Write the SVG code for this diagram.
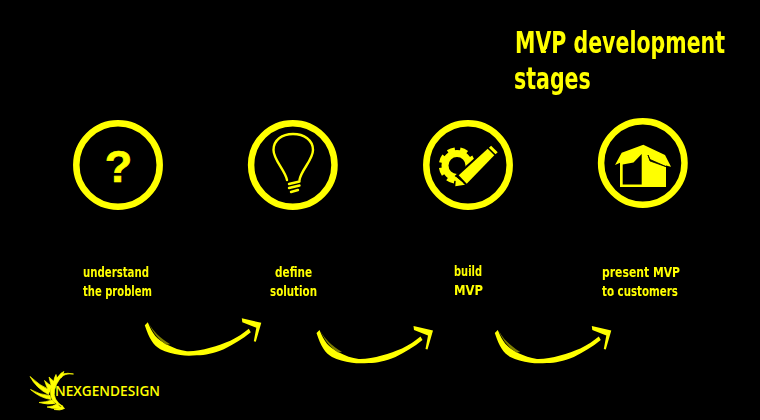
<svg xmlns="http://www.w3.org/2000/svg" width="760" height="420" viewBox="0 0 760 420">
<defs>
<style>
.t{font-family:"DejaVu Sans Condensed","DejaVu Sans",sans-serif;font-weight:700;fill:#ff0;}
.h{font-size:30px}
.l{font-size:14px}
.ring{fill:none;stroke:#ff0;stroke-width:6.5}
.y{fill:#ff0}
.sh{fill:#7d7d00}
.f path{fill:#ff0;stroke:#ff0;stroke-width:.7}
.line{fill:none;stroke:#ff0;stroke-linecap:round;stroke-linejoin:round}
</style>
<filter id="soft" x="-5%" y="-10%" width="110%" height="120%"><feGaussianBlur stdDeviation="0.5"/></filter>
<filter id="rough" x="-3%" y="-15%" width="106%" height="130%"><feTurbulence type="fractalNoise" baseFrequency="0.09" numOctaves="2" seed="4" result="n"/><feDisplacementMap in="SourceGraphic" in2="n" scale="1.6" xChannelSelector="R" yChannelSelector="G"/></filter>
<g id="arrow" filter="url(#soft)">
<path class="y" d="M316.500,333 L319.500,330 C322,336 324,340 327,343.700 C332,349.500 345,357 358.700,359 C372,359.500 390,353.500 402,348.500 C409,345 415,341 420.500,336.500 L422.500,340 C414,347 405,352 395.500,357 C385,361 377,363 368.700,363 C362,363.500 357,363.500 352,362.700 C344,361.500 338,360 332,357 C325,353 321,346.500 316.500,333Z"/>
<path class="sh" d="M320.500,331 C325,339 331,345 342,352 L338,352.500 C330,347 325,341 320.500,331Z"/>
<path class="y" d="M413.500,326 L433,330.500 L427.500,349.500 L425.500,349 L428,335.500 L414,330Z"/>
</g>
</defs>
<rect width="760" height="420" fill="#000"/>

<g id="title" filter="url(#rough)">
<text class="t h" transform="translate(515 53) scale(.8 1)" x="0" y="0" textLength="262.500" lengthAdjust="spacingAndGlyphs">MVP development</text>
<text class="t h" transform="translate(514 89) scale(.8 1)" x="0" y="0" textLength="96" lengthAdjust="spacingAndGlyphs">stages</text>
</g>

<g id="connectors">
<use href="#arrow" x="-171.700" y="-7.700"/>
<use href="#arrow"/>
<use href="#arrow" x="178.300"/>
</g>

<g id="node-understand">
<circle class="ring" cx="118" cy="165" r="41.700"/>
<text x="118.500" y="182" text-anchor="middle" font-family="Liberation Sans,sans-serif" font-weight="700" font-size="45" fill="#ff0" stroke="#ff0" stroke-width=".7">?</text>
<g filter="url(#rough)">
<text class="t l" x="83" y="277" textLength="66" lengthAdjust="spacingAndGlyphs">understand</text>
<text class="t l" x="83" y="295.500" textLength="69" lengthAdjust="spacingAndGlyphs">the problem</text>
</g>
</g>

<g id="node-define">
<circle class="ring" cx="292.800" cy="165" r="41.700"/>
<path class="line" stroke-width="2.400" d="M287,180 C285,170 273.500,160 273.500,150 C273.500,140 282,134 293,134 C304,134 313,140 313,150 C313,160 301,170 299.500,180"/>
<path class="line" stroke-width="2.400" d="M289,184 L299.500,181.500 M289,188 L299.500,185.500 M291,192 L298,190"/>
<g filter="url(#rough)">
<text class="t l" x="275" y="277" textLength="37" lengthAdjust="spacingAndGlyphs">define</text>
<text class="t l" x="270" y="295.500" textLength="47" lengthAdjust="spacingAndGlyphs">solution</text>
</g>
</g>

<g id="node-build">
<circle class="ring" cx="468" cy="165" r="41.700"/>
<circle cx="457" cy="165.500" r="12" fill="none" stroke="#ff0" stroke-width="7"/>
<circle cx="457" cy="165.500" r="15.500" fill="none" stroke="#ff0" stroke-width="5.500" stroke-dasharray="7 5.175" stroke-dashoffset="-2.600"/>
<path d="M456.500,176 L487.700,148 L495,155.500 L467,184.500 Z" fill="#000" stroke="#000" stroke-width="2.400"/>
<path class="y" d="M458.700,175.300 L487.700,148.700 L494.300,155.300 L466.700,183.700 Z"/>
<path class="y" d="M488.900,147.700 L491.100,145.700 L497.700,152.300 L495.500,154.300 Z"/>
<path class="y" d="M456,177 L465,184.700 L455.300,186.300 Z"/>
<text class="t l" x="454" y="276" textLength="28" lengthAdjust="spacingAndGlyphs" filter="url(#rough)">build</text>
<text class="t l" x="454" y="295" textLength="29" lengthAdjust="spacingAndGlyphs" filter="url(#rough)">MVP</text>
</g>

<g id="node-present">
<circle class="ring" cx="642.800" cy="163" r="41.700"/>
<path class="y" d="M643.300,144.700 L665,155 L671,166.700 L666,165.500 L666,187 L620,187 L620,162.800 L615,165 L621.700,152.700 Z"/>
<path d="M622.700,164.500 L633.500,162.500 L641.700,154 L641.700,184.500 L622.700,184.500 Z" fill="#000"/>
<path d="M648,155 L650,161 L667,167 L650,159.500 Z" fill="#000" stroke="#000" stroke-width=".8"/>
<g filter="url(#rough)">
<text class="t l" x="602" y="277" textLength="78" lengthAdjust="spacingAndGlyphs">present MVP</text>
<text class="t l" x="602" y="295.500" textLength="76" lengthAdjust="spacingAndGlyphs">to customers</text>
</g>
</g>

<g id="logo">
<g class="f">
<path d="M30,376.500 Q36,388 48.500,394.500 L50,390 Q40,386 30,376.500Z"/>
<path d="M30.500,389.500 Q40,398 51,399.500 L50,395.500 Q40,395 30.500,389.500Z"/>
<path d="M39,402.500 Q48,405 55,403.500 L52,400 Q46,402 39,402.500Z"/>
<path d="M47,407 Q54,409.500 61,408 L57,404 Q53,406.500 47,407Z"/>
<path d="M54,409.500 Q60,411 64.500,408.500 L62,405.500 Q60,408.500 54,409.500Z"/>
<path d="M44.500,380.500 Q46,386 49.500,392 L52,386 Q48,384 44.500,380.500Z"/>
<path d="M49,377 Q50,382 52,388 L55,382 Q52,380 49,377Z"/>
<path d="M56,374.500 Q53,379 54.500,384 L58.500,380 Q56.500,378 56,374.500Z"/>
<path d="M64,371.500 Q58,374 57.500,380 L62,377 Q62,375 64,371.500Z"/>
<path d="M73.500,374 Q64,373 60,378.500 Q56,384 54.500,390 Q52.500,400 63,406.500 Q50,403 50.500,392 Q51,380 62,374 Q68,372.500 73.500,374Z"/>
</g>
<text x="55" y="396" font-family="Open Sans,sans-serif" font-weight="600" font-size="14" fill="#ff0" textLength="105" lengthAdjust="spacingAndGlyphs">NEXGENDESIGN</text>
</g>
</svg>
